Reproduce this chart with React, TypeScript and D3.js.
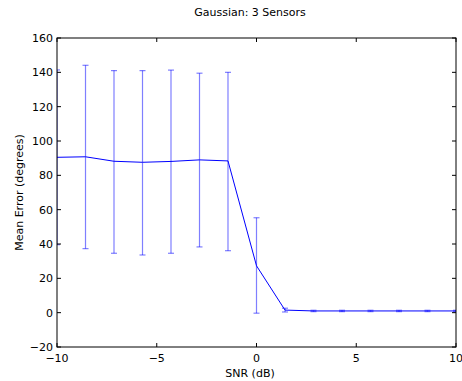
import React from "react";
import * as d3 from "d3";

const snr = [-10, -8.571, -7.143, -5.714, -4.286, -2.857, -1.429, 0, 1.429, 2.857, 4.286, 5.714, 7.143, 8.571, 10];
const meanErr = [90.5, 90.8, 88.2, 87.6, 88.1, 89.0, 88.4, 27.3, 1.5, 1.0, 1.0, 1.0, 1.0, 1.0, 1.0];
const lowErr = [39.6, 37.3, 34.6, 33.6, 34.6, 38.3, 36.1, -0.3, 0.4, 0.6, 0.6, 0.6, 0.6, 0.6, 0.6];
const highErr = [141.4, 144.1, 141.0, 141.0, 141.3, 139.5, 140.0, 55.3, 2.6, 1.4, 1.4, 1.4, 1.4, 1.4, 1.4];
const xTicks = [-10, -5, 0, 5, 10];
const yTicks = [-20, 0, 20, 40, 60, 80, 100, 120, 140, 160];

const W = 462, H = 381;
const L = 57, R = 456, T = 38, B = 347;
const font = "DejaVu Sans, sans-serif";
const fs = 11;

export default function App() {
  const x = d3.scaleLinear().domain([-10, 10]).range([L, R]);
  const y = d3.scaleLinear().domain([-20, 160]).range([B, T]);
  const line = d3.line<number>().x((_, i) => x(snr[i])).y((d) => y(d));
  const cap = 3;
  return (
    <svg width={W} height={H} style={{ position: "absolute", left: 0, top: 0 }}>
      <rect width={W} height={H} fill="#fff" />
      <defs>
        <clipPath id="c">
          <rect x={L} y={T} width={R - L} height={B - T} />
        </clipPath>
      </defs>
      <g clipPath="url(#c)">
        {snr.map((s, i) => (
          <g key={i} stroke="#0000ff" strokeOpacity={0.5} strokeWidth={1.2}>
            <line x1={x(s)} x2={x(s)} y1={y(lowErr[i])} y2={y(highErr[i])} />
            <line x1={x(s) - cap} x2={x(s) + cap} y1={y(lowErr[i])} y2={y(lowErr[i])} />
            <line x1={x(s) - cap} x2={x(s) + cap} y1={y(highErr[i])} y2={y(highErr[i])} />
          </g>
        ))}
        <path d={line(meanErr) || ""} fill="none" stroke="#0000ff" strokeWidth={1} />
      </g>
      <rect x={L} y={T} width={R - L} height={B - T} fill="none" stroke="#000" strokeWidth={1} />
      {xTicks.map((t) => (
        <g key={"x" + t}>
          <line x1={x(t)} x2={x(t)} y1={B} y2={B - 4} stroke="#000" />
          <line x1={x(t)} x2={x(t)} y1={T} y2={T + 4} stroke="#000" />
          <text x={x(t)} y={B + 15} textAnchor="middle" fontFamily={font} fontSize={fs} fill="#000">
            {t < 0 ? "\u2212" + Math.abs(t) : t}
          </text>
        </g>
      ))}
      {yTicks.map((t) => (
        <g key={"y" + t}>
          <line x1={L} x2={L + 4} y1={y(t)} y2={y(t)} stroke="#000" />
          <line x1={R} x2={R - 4} y1={y(t)} y2={y(t)} stroke="#000" />
          <text x={L - 4} y={y(t) + 4} textAnchor="end" fontFamily={font} fontSize={fs} fill="#000">
            {t < 0 ? "\u2212" + Math.abs(t) : t}
          </text>
        </g>
      ))}
      <text x={250} y={377} textAnchor="middle" fontFamily={font} fontSize={fs} fill="#000">SNR (dB)</text>
      <text transform={`translate(23,${(T + B) / 2}) rotate(-90)`} textAnchor="middle" fontFamily={font} fontSize={fs} fill="#000">Mean Error (degrees)</text>
      <text x={250} y={16} textAnchor="middle" fontFamily={font} fontSize={fs} fill="#000">Gaussian: 3 Sensors</text>
    </svg>
  );
}
